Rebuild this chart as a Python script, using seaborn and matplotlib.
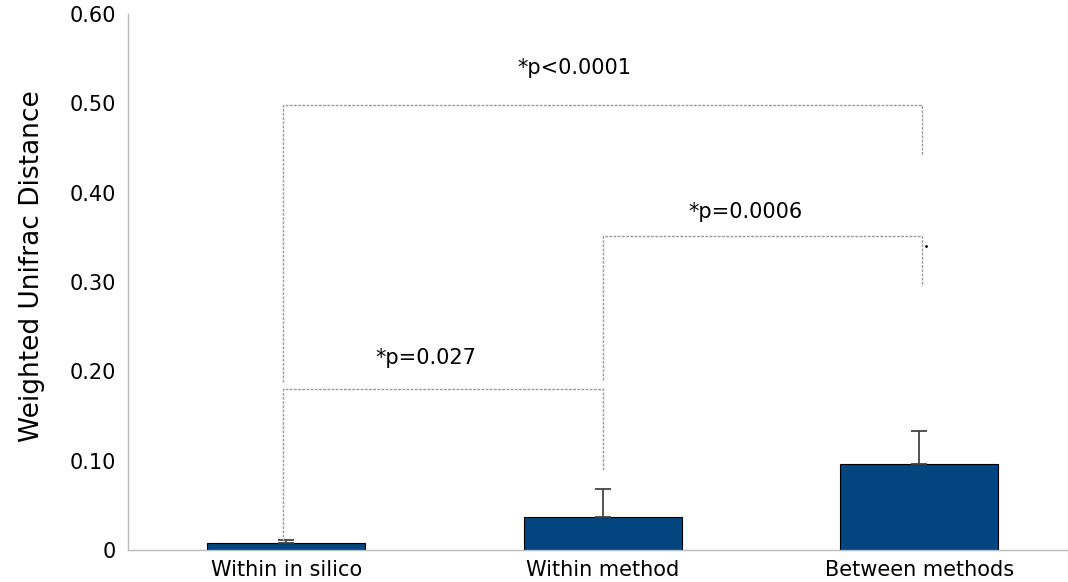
import matplotlib
matplotlib.use("Agg")
import matplotlib.pyplot as plt
import seaborn as sns
import pandas as pd

# Data
groups = ["Within in silico", "Within method", "Between methods"]
means = [0.008, 0.037, 0.096]
err_upper = [0.003, 0.031, 0.037]

# significance brackets: (left group, right group, bar height, left foot, right foot, label)
bracket_pairs = [(0, 1), (1, 2), (0, 2)]
bracket_heights = [0.18, 0.352, 0.498]
bracket_left_feet = [0.01, 0.19, 0.188]
bracket_right_feet = [0.088, 0.296, 0.442]
bracket_labels = ["*p=0.027", "*p=0.0006", "*p<0.0001"]
label_x = [0.44, 1.45, 0.91]
label_y = [0.215, 0.378, 0.54]

df = pd.DataFrame({"group": groups, "mean": means})

sns.set_style("white")
plt.rcParams["font.family"] = ["DejaVu Sans"]
plt.rcParams["text.color"] = "black"
plt.rcParams["axes.labelcolor"] = "black"
plt.rcParams["xtick.labelcolor"] = "black"
plt.rcParams["ytick.labelcolor"] = "black"

fig = plt.figure(figsize=(10.68, 5.82), dpi=100)
ax = fig.add_axes([0.12, 0.055, 0.88, 0.921])

sns.barplot(data=df, x="group", y="mean", color="#02457f", saturation=1,
            width=0.5, edgecolor="black", linewidth=0.8, ax=ax)
ax.errorbar(range(len(groups)), means, yerr=[[0] * len(groups), err_upper],
            fmt="none", ecolor="#444444", elinewidth=1.3, capsize=6, capthick=1.3)

dash_kw = dict(color="#999999", linestyle=(0, (2, 1)), linewidth=1.0)
for (a, b), h, lf, rf, lab, tx, ty in zip(bracket_pairs, bracket_heights, bracket_left_feet,
                                         bracket_right_feet, bracket_labels, label_x, label_y):
    xa = a - 0.012 if a == 0 else a
    xb = b + 0.01 if b == 2 else b
    ax.plot([xa, xa, xb, xb], [lf, h, h, rf], **dash_kw)
    ax.text(tx, ty, lab, ha="center", va="center", fontsize=15)

ax.plot([2.02], [0.34], marker=".", color="black", markersize=2)

ax.set_xlim(-0.5, 2.47)
ax.set_ylim(0, 0.6)
ax.set_yticks([0, 0.1, 0.2, 0.3, 0.4, 0.5, 0.6])
ax.set_yticklabels(["0", "0.10", "0.20", "0.30", "0.40", "0.50", "0.60"])
ax.set_xticks([0, 1, 2])
ax.set_xticklabels(groups)
ax.set_xticks([0.5, 1.5], minor=True)
ax.tick_params(axis="x", which="major", length=0, labelsize=15, pad=7)
ax.tick_params(axis="x", which="minor", length=5, color="#bbbbbb", direction="out")
ax.tick_params(axis="y", length=5, color="#bbbbbb", labelsize=15, direction="out")
ax.set_xlabel("")
ax.set_ylabel("Weighted Unifrac Distance", fontsize=19)
ax.yaxis.set_label_coords(-0.088, 0.53)

for side in ["top", "right"]:
    ax.spines[side].set_visible(False)
for side in ["left", "bottom"]:
    ax.spines[side].set_color("#bbbbbb")
    ax.spines[side].set_linewidth(1.0)

fig.savefig("out.png", dpi=100)
